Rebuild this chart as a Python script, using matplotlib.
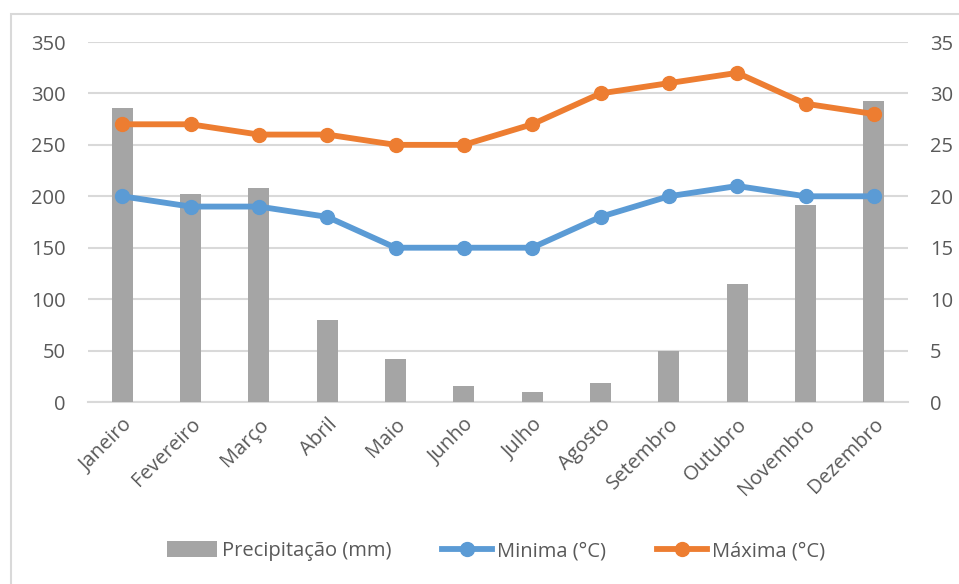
import matplotlib
matplotlib.use("Agg")
import matplotlib.pyplot as plt
from matplotlib.patches import Rectangle, Patch
from matplotlib.lines import Line2D
import numpy as np

plt.rcParams['font.family'] = ['Open Sans', 'DejaVu Sans']

months = ["Janeiro", "Fevereiro", "Março", "Abril", "Maio", "Junho",
          "Julho", "Agosto", "Setembro", "Outubro", "Novembro", "Dezembro"]
precip = [286, 202, 208, 80, 42, 16, 10, 18, 50, 115, 192, 293]
minima = [20, 19, 19, 18, 15, 15, 15, 18, 20, 21, 20, 20]
maxima = [27, 27, 26, 26, 25, 25, 27, 30, 31, 32, 29, 28]
left_ticks = [0, 50, 100, 150, 200, 250, 300, 350]
right_ticks = [0, 5, 10, 15, 20, 25, 30, 35]

W, H = 959, 584
fig = plt.figure(figsize=(W / 100, H / 100), dpi=100)
fig.patch.set_facecolor("white")

# chart border
fig.patches.append(Rectangle((11 / W, -0.1), 1.2, 1 - 14 / H + 0.1,
                             transform=fig.transFigure, fill=False,
                             edgecolor="#D9D9D9", linewidth=1.5))

ax = fig.add_axes([88 / W, 1 - 402 / H, (908 - 88) / W, (402 - 42) / H])
ax2 = ax.twinx()
ax.set_zorder(1)
ax2.set_zorder(2)
ax.patch.set_visible(False)
ax2.patch.set_visible(False)

x = np.arange(len(months))
tc = "#595959"
fs = 14.5

ax.bar(x, precip, width=0.31, color="#A5A5A5", zorder=3)
ax.set_ylim(0, 350)
ax.set_xlim(-0.5, len(months) - 0.5)
ax.set_yticks(left_ticks)
ax.yaxis.grid(True, color="#D9D9D9", linewidth=1.5, zorder=0)
ax.set_axisbelow(True)

ax2.plot(x, minima, color="#5B9BD5", linewidth=4.2, marker="o",
         markersize=10, solid_capstyle="round")
ax2.plot(x, maxima, color="#ED7D31", linewidth=4.2, marker="o",
         markersize=10, solid_capstyle="round")
ax2.set_ylim(0, 35)
ax2.set_yticks(right_ticks)

for a in (ax, ax2):
    for s in a.spines.values():
        s.set_visible(False)
    a.tick_params(axis="both", length=0, labelsize=fs, labelcolor=tc)
ax.spines["bottom"].set_visible(True)
ax.spines["bottom"].set_color("#D9D9D9")
ax.spines["bottom"].set_linewidth(1.5)

ax.tick_params(axis="y", pad=16)
ax2.tick_params(axis="y", pad=16)
ax.set_xticks(x)
ax.set_xticklabels(months, rotation=45, ha="right", rotation_mode="anchor")
ax.tick_params(axis="x", pad=9)

handles = [
    Patch(facecolor="#A5A5A5", edgecolor="none"),
    Line2D([], [], color="#5B9BD5", linewidth=4.2, marker="o", markersize=10),
    Line2D([], [], color="#ED7D31", linewidth=4.2, marker="o", markersize=10),
]
labels = ["Precipitação (mm)", "Minima (°C)", "Máxima (°C)"]
leg = fig.legend(handles, labels, loc="center", bbox_to_anchor=(496 / W, 1 - 551 / H),
                 ncol=3, frameon=False, fontsize=fs, handlelength=2.5,
                 handletextpad=0.25, columnspacing=2.5, labelcolor=tc,
                 handleheight=0.8)

fig.savefig("out.png", dpi=100)
